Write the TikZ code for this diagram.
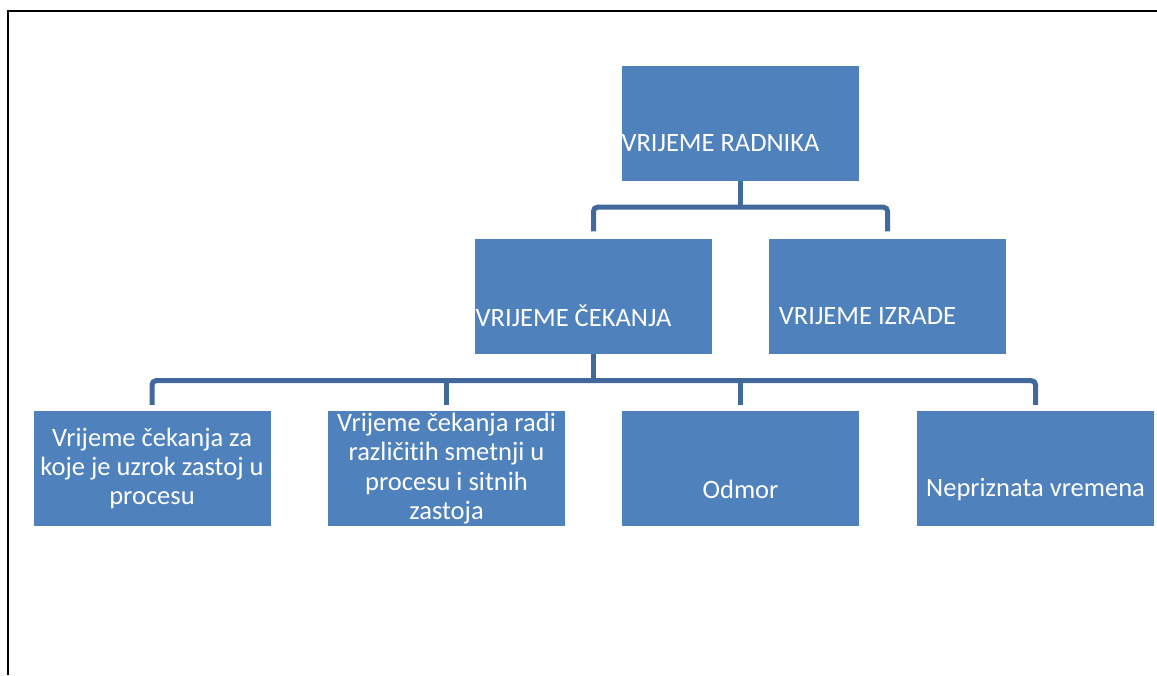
\documentclass[tikz,border=0pt]{standalone}
\usepackage{fontspec}
\setmainfont{Carlito}[Ligatures=NoCommon]
\usepackage{tikz}
\usetikzlibrary{calc}

\definecolor{boxblue}{RGB}{79,129,189}
\definecolor{linkblue}{RGB}{65,105,155}

\tikzset{
  box/.style={rectangle, fill=boxblue, minimum width=237pt, minimum height=115pt, inner sep=0pt},
  txt/.style={text=white, font=\fontsize{26.5}{29.3}\selectfont, align=center, inner sep=0pt},
  conn/.style={draw=linkblue, line width=5pt, rounded corners=4pt}
}

\begin{document}
\begin{tikzpicture}[x=1pt, y=1pt]
    \useasboundingbox (0,0) rectangle (1157,-675);
    % frame
    \draw[line width=2.5pt] (8,-675) -- (8,-11) -- (1157,-11);

    % boxes
    \node[box] (root) at (740.5,-123.5) {};
    \node[box] (cek) at (593.5,-296) {};
    \node[box] (izr) at (887.5,-296) {};
    \node[box, txt] (b1) at (152,-468.5) {Vrijeme čekanja za\\koje je uzrok zastoj u\\procesu};
    \node[box, txt] (b2) at (446.5,-468.5) {Vrijeme čekanja radi\\različitih smetnji u\\procesu i sitnih\\zastoja};
    \node[box] (b3) at (740.5,-468.5) {};
    \node[box] (b4) at (1035.5,-468.5) {};

    % texts
    \node[txt] (troot) at ([shift={(-20,-20)}]root.center) {VRIJEME RADNIKA};
    \node[txt] (tcek) at ([shift={(-20,-20)}]cek.center) {VRIJEME ČEKANJA};
    \node[txt] (tizr) at ([shift={(-20,-20)}]izr.center) {VRIJEME IZRADE};
    \node[txt] (tb3) at ([shift={(0,-21)}]b3.center) {Odmor};
    \node[txt] (tb4) at ([shift={(0,-21)}]b4.center) {Nepriznata vremena};

    % connectors
    \coordinate (j1) at ([yshift=-26pt]root.south);
    \coordinate (j2) at ([yshift=-27pt]cek.south);
    \draw[conn] (root.south) -- (j1);
    \draw[conn] ([yshift=7pt]cek.north) |- (j1) -| ([yshift=7pt]izr.north);
    \draw[conn] (cek.south) -- (j2);
    \draw[conn] ([yshift=6pt]b1.north) |- (j2) -| ([yshift=6pt]b4.north);
    \draw[conn] ([yshift=6pt]b2.north) -- (b2.north |- j2);
    \draw[conn] ([yshift=6pt]b3.north) -- (b3.north |- j2);
\end{tikzpicture}
\end{document}
